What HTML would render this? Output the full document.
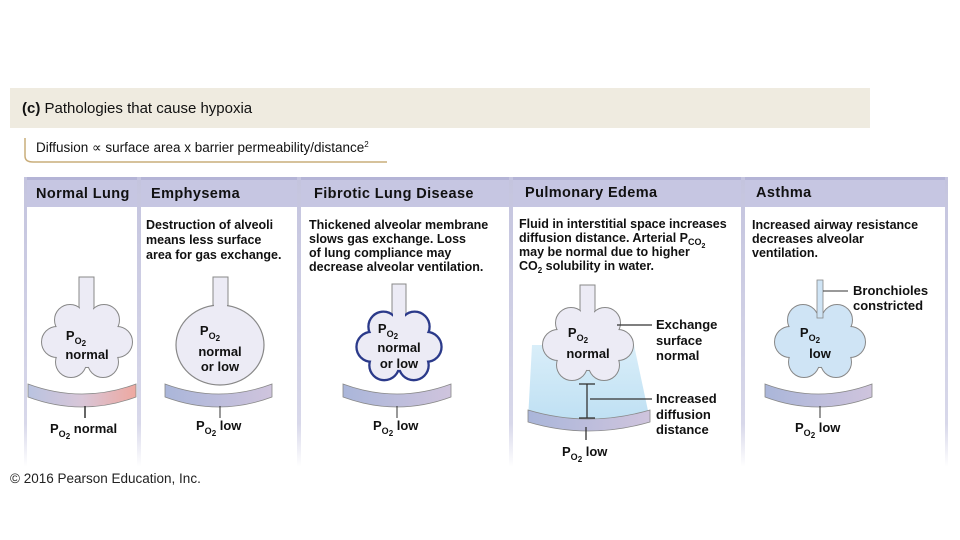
<!DOCTYPE html>
<html><head><meta charset="utf-8"><style>
body{margin:0;background:#fff;width:960px;height:540px;overflow:hidden}
svg{display:block;font-family:"Liberation Sans",sans-serif}
.h{font-weight:bold;font-size:14.5px;fill:#111;letter-spacing:0.4px}
.d{font-size:12.5px;fill:#111;font-weight:bold}
.l{font-size:13px;fill:#111;font-weight:bold}
</style></head><body>
<svg width="960" height="540" viewBox="0 0 960 540">
<defs>
<linearGradient id="fade" x1="0" y1="0" x2="0" y2="1"><stop offset="0" stop-color="#c4c4de"/><stop offset="0.85" stop-color="#d8d8ea"/><stop offset="1" stop-color="#fff"/></linearGradient>
<linearGradient id="nm" x1="0" y1="0" x2="1" y2="0"><stop offset="0" stop-color="#b9c3e0"/><stop offset="0.5" stop-color="#d8c6d8"/><stop offset="1" stop-color="#eea8a0"/></linearGradient>
<linearGradient id="mb" x1="0" y1="0" x2="1" y2="0"><stop offset="0" stop-color="#aab6da"/><stop offset="1" stop-color="#cfc4dd"/></linearGradient>
<linearGradient id="wat" x1="0" y1="0" x2="0" y2="1"><stop offset="0" stop-color="#d9eef9"/><stop offset="1" stop-color="#bfe0f3"/></linearGradient>
<g id="cl"><circle cx="0" cy="0" r="27"/><circle cx="-17" cy="-20" r="15"/><circle cx="17" cy="-20" r="15"/><circle cx="-30" cy="2" r="15"/><circle cx="30" cy="2" r="15"/><circle cx="-16" cy="22" r="15"/><circle cx="16" cy="22" r="15"/><circle cx="0" cy="-5" r="20"/></g>
</defs>
<rect x="10" y="88" width="860" height="40" fill="#efebe0"/>
<text x="22" y="113" style="font-size:15px;fill:#111"><tspan font-weight="bold">(c)</tspan> Pathologies that cause hypoxia</text>
<path d="M25 138 V156 Q25 162 33 162 H387" fill="none" stroke="#c9ad7a" stroke-width="1.5"/>
<text x="36" y="152" style="font-size:13.5px;fill:#111">Diffusion ∝ surface area x barrier permeability/distance<tspan font-size="8" dy="-5">2</tspan></text>
<rect x="24" y="177" width="924" height="30" fill="#c6c6e2"/>
<rect x="24" y="177" width="924" height="3" fill="#b4b4d6"/>
<rect x="24" y="177" width="3" height="290" fill="url(#fade)"/>
<rect x="137" y="177" width="4" height="290" fill="url(#fade)"/>
<rect x="297" y="177" width="4" height="290" fill="url(#fade)"/>
<rect x="509" y="177" width="4" height="290" fill="url(#fade)"/>
<rect x="741" y="177" width="4" height="290" fill="url(#fade)"/>
<rect x="945" y="177" width="3" height="290" fill="url(#fade)"/>
<text class="h" x="36" y="198">Normal Lung</text>
<text class="h" x="151" y="198">Emphysema</text>
<text class="h" x="314" y="198">Fibrotic Lung Disease</text>
<text class="h" x="525" y="197">Pulmonary Edema</text>
<text class="h" x="756" y="197">Asthma</text>
<g class="d">
<text x="146" y="229">Destruction of alveoli</text><text x="146" y="244">means less surface</text><text x="146" y="259">area for gas exchange.</text>
<text x="309" y="229">Thickened alveolar membrane</text><text x="309" y="243">slows gas exchange. Loss</text><text x="309" y="257">of lung compliance may</text><text x="309" y="271">decrease alveolar ventilation.</text>
<text x="519" y="228">Fluid in interstitial space increases</text><text x="519" y="242">diffusion distance. Arterial P<tspan font-size="9" dy="3">CO</tspan><tspan font-size="7" dy="3">2</tspan></text><text x="519" y="256">may be normal due to higher</text><text x="519" y="270">CO<tspan font-size="8" dy="3">2</tspan><tspan dy="-3"> solubility in water.</tspan></text>
<text x="752" y="229">Increased airway resistance</text><text x="752" y="243">decreases alveolar</text><text x="752" y="257">ventilation.</text>
</g>
<!-- Normal -->
<rect x="79" y="277" width="15" height="40" fill="#ecebf5" stroke="#888"/>
<use href="#cl" transform="translate(87,340)" fill="none" stroke="#888" stroke-width="2"/>
<use href="#cl" transform="translate(87,340)" fill="#ecebf5"/>
<rect x="80" y="300" width="13" height="20" fill="#ecebf5"/>
<path d="M28 384 Q82 404 136 384 L136 397 Q82 417 28 397 Z" fill="url(#nm)" stroke="#888" stroke-width="0.8"/>
<line x1="85" y1="406" x2="85" y2="418" stroke="#333" stroke-width="1.5"/>
<!-- Emphysema -->
<rect x="213" y="277" width="15" height="40" fill="#ecebf5" stroke="#888"/>
<ellipse cx="220" cy="345" rx="44" ry="40" fill="#ecebf5" stroke="#888" stroke-width="1.2"/>
<rect x="214" y="300" width="13" height="10" fill="#ecebf5"/>
<path d="M165 384 Q219 404 272 384 L272 397 Q219 417 165 397 Z" fill="url(#mb)" stroke="#888" stroke-width="0.8"/>
<line x1="220" y1="406" x2="220" y2="418" stroke="#333"/>
<!-- Fibrotic -->
<rect x="392" y="284" width="14" height="36" fill="#ecebf5" stroke="#888"/>
<use href="#cl" transform="translate(399,345) scale(0.92)" fill="none" stroke="#2b3a8a" stroke-width="5"/>
<use href="#cl" transform="translate(399,345) scale(0.92)" fill="#ecebf5"/>
<rect x="393" y="305" width="12" height="18" fill="#ecebf5"/>
<path d="M343 384 Q397 404 451 384 L451 397 Q397 417 343 397 Z" fill="url(#mb)" stroke="#888" stroke-width="0.8"/>
<line x1="397" y1="406" x2="397" y2="418" stroke="#333"/>
<!-- Edema -->
<path d="M532 345 L634 345 L650 420 L528 420 Z" fill="url(#wat)"/>
<rect x="580" y="285" width="15" height="36" fill="#ecebf5" stroke="#888"/>
<use href="#cl" transform="translate(588,343)" fill="none" stroke="#888" stroke-width="2"/>
<use href="#cl" transform="translate(588,343)" fill="#ecebf5"/>
<rect x="581" y="305" width="13" height="18" fill="#ecebf5"/>
<path d="M528 410 Q588 428 650 410 L650 422 Q588 440 528 422 Z" fill="url(#mb)" stroke="#888" stroke-width="0.8"/>
<g stroke="#333" stroke-width="1.3"><line x1="587" y1="384" x2="587" y2="418"/><line x1="579" y1="384" x2="595" y2="384"/><line x1="579" y1="418" x2="595" y2="418"/><line x1="590" y1="399" x2="652" y2="399"/><line x1="617" y1="325" x2="652" y2="325"/><line x1="586" y1="427" x2="586" y2="440"/></g>
<g class="l"><text x="656" y="329">Exchange</text><text x="656" y="345">surface</text><text x="656" y="360">normal</text>
<text x="656" y="403">Increased</text><text x="656" y="419">diffusion</text><text x="656" y="434">distance</text>
<text x="853" y="295">Bronchioles</text><text x="853" y="310">constricted</text></g>
<!-- Asthma -->
<use href="#cl" transform="translate(820,340)" fill="none" stroke="#888" stroke-width="2"/>
<use href="#cl" transform="translate(820,340)" fill="#cfe4f5"/>
<rect x="817" y="280" width="6" height="38" fill="#cfe4f5" stroke="#888" stroke-width="0.8"/>
<line x1="823" y1="291" x2="848" y2="291" stroke="#333"/>
<path d="M765 384 Q818 404 872 384 L872 397 Q818 417 765 397 Z" fill="url(#mb)" stroke="#888" stroke-width="0.8"/>
<line x1="820" y1="406" x2="820" y2="418" stroke="#333"/>
<g class="l">
<text x="76" y="340" text-anchor="middle">P<tspan font-size="9" dy="4">O</tspan><tspan font-size="8" dy="2">2</tspan></text>
<text x="87" y="359" text-anchor="middle">normal</text>
<text x="50" y="433">P<tspan font-size="9" dy="4">O</tspan><tspan font-size="8" dy="2">2</tspan><tspan dy="-6"> normal</tspan></text>
<text x="210" y="335" text-anchor="middle">P<tspan font-size="9" dy="4">O</tspan><tspan font-size="8" dy="2">2</tspan></text>
<text x="220" y="356" text-anchor="middle">normal</text><text x="220" y="371" text-anchor="middle">or low</text>
<text x="196" y="430">P<tspan font-size="9" dy="4">O</tspan><tspan font-size="8" dy="2">2</tspan><tspan dy="-6"> low</tspan></text>
<text x="388" y="333" text-anchor="middle">P<tspan font-size="9" dy="4">O</tspan><tspan font-size="8" dy="2">2</tspan></text>
<text x="399" y="352" text-anchor="middle">normal</text><text x="399" y="368" text-anchor="middle">or low</text>
<text x="373" y="430">P<tspan font-size="9" dy="4">O</tspan><tspan font-size="8" dy="2">2</tspan><tspan dy="-6"> low</tspan></text>
<text x="578" y="337" text-anchor="middle">P<tspan font-size="9" dy="4">O</tspan><tspan font-size="8" dy="2">2</tspan></text>
<text x="588" y="358" text-anchor="middle">normal</text>
<text x="562" y="456">P<tspan font-size="9" dy="4">O</tspan><tspan font-size="8" dy="2">2</tspan><tspan dy="-6"> low</tspan></text>
<text x="810" y="337" text-anchor="middle">P<tspan font-size="9" dy="4">O</tspan><tspan font-size="8" dy="2">2</tspan></text>
<text x="820" y="358" text-anchor="middle">low</text>
<text x="795" y="432">P<tspan font-size="9" dy="4">O</tspan><tspan font-size="8" dy="2">2</tspan><tspan dy="-6"> low</tspan></text>
</g>
<text x="10" y="483" style="font-size:13.5px;fill:#222">© 2016 Pearson Education, Inc.</text>
</svg>
</body></html>
